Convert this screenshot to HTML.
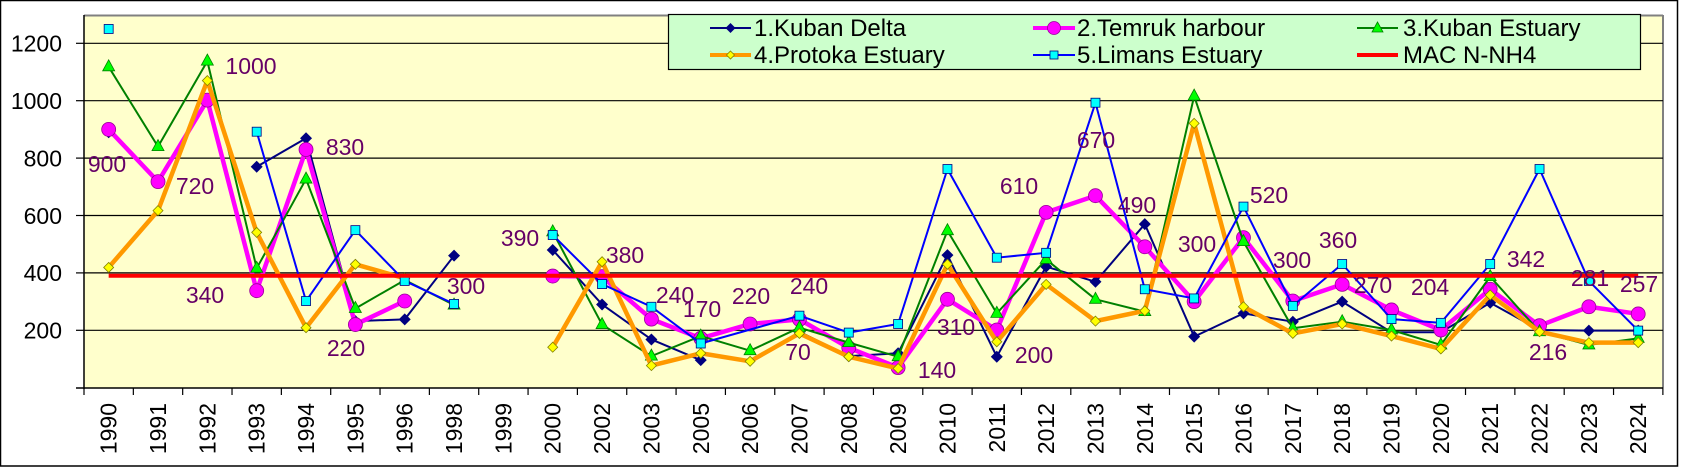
<!DOCTYPE html>
<html><head><meta charset="utf-8"><style>
html,body{margin:0;padding:0;background:#fff;}
svg{display:block;font-family:"Liberation Sans",Arial,sans-serif;}
</style></head><body>
<svg width="1684" height="467" viewBox="0 0 1684 467" xmlns="http://www.w3.org/2000/svg">
<rect x="0" y="0" width="1684" height="467" fill="#fff"/>
<rect x="0.5" y="0.5" width="1677" height="465.5" fill="none" stroke="#000" stroke-width="1.5"/>
<rect x="84" y="15" width="1579" height="373" fill="#FFFFCC"/>
<line x1="84" y1="15.5" x2="1663" y2="15.5" stroke="#808080" stroke-width="2"/>
<line x1="1663" y1="15" x2="1663" y2="388" stroke="#808080" stroke-width="2"/>
<g stroke="#000" stroke-width="1.2">
<line x1="84" y1="43.3" x2="1663" y2="43.3"/>
<line x1="84" y1="100.7" x2="1663" y2="100.7"/>
<line x1="84" y1="158.1" x2="1663" y2="158.1"/>
<line x1="84" y1="215.5" x2="1663" y2="215.5"/>
<line x1="84" y1="272.9" x2="1663" y2="272.9"/>
<line x1="84" y1="330.3" x2="1663" y2="330.3"/>
</g>
<line x1="84" y1="15" x2="84" y2="389" stroke="#000" stroke-width="1.5"/>
<line x1="76" y1="388" x2="1663" y2="388" stroke="#000" stroke-width="1.5"/>
<g stroke="#000" stroke-width="1.2">
<line x1="76" y1="43.3" x2="84" y2="43.3"/><line x1="76" y1="100.7" x2="84" y2="100.7"/><line x1="76" y1="158.1" x2="84" y2="158.1"/><line x1="76" y1="215.5" x2="84" y2="215.5"/><line x1="76" y1="272.9" x2="84" y2="272.9"/><line x1="76" y1="330.3" x2="84" y2="330.3"/>
</g>
<g font-size="23" text-anchor="end" fill="#000">
<text x="62" y="51.5">1200</text><text x="62" y="109">1000</text><text x="62" y="166.5">800</text><text x="62" y="224">600</text><text x="62" y="281">400</text><text x="62" y="338.5">200</text>
</g>
<g id="xaxis"></g>
<g id="series"></g>
<g font-size="23" fill="#660066" text-anchor="middle">
<text x="251" y="74">1000</text><text x="107" y="172">900</text><text x="195" y="194">720</text><text x="345" y="155">830</text><text x="205" y="303">340</text><text x="346" y="356">220</text><text x="520" y="246">390</text><text x="466" y="294">300</text>
<text x="625" y="263">380</text><text x="675" y="303">240</text><text x="702" y="317">170</text><text x="751" y="304">220</text><text x="809" y="294">240</text><text x="798" y="360">70</text><text x="956" y="335">310</text><text x="937" y="378">140</text><text x="1019" y="194">610</text><text x="1034" y="363">200</text><text x="1096" y="148">670</text>
<text x="1137" y="213">490</text><text x="1197" y="252">300</text><text x="1269" y="203">520</text><text x="1292" y="268">300</text><text x="1338" y="248">360</text><text x="1373" y="293">270</text><text x="1430" y="295">204</text><text x="1526" y="267">342</text><text x="1548" y="360">216</text><text x="1590" y="286">281</text><text x="1639" y="292">257</text>
</g>
<rect x="668.5" y="14.5" width="972" height="55" fill="#CCFFCC" stroke="#000" stroke-width="1.2"/>
<g font-size="24" fill="#000">
<line x1="710" y1="28" x2="751" y2="28" stroke="#000080" stroke-width="2"/><path d="M730.5 23 L735.5 28 L730.5 33 L725.5 28Z" fill="#000080"/>
<text x="754" y="36">1.Kuban Delta</text>
<line x1="710" y1="55" x2="751" y2="55" stroke="#FF9900" stroke-width="4"/><path d="M730.5 51 L734.5 55 L730.5 59 L726.5 55Z" fill="#FFFF00" stroke="#808000" stroke-width="0.8"/>
<text x="754" y="63">4.Protoka Estuary</text>
<line x1="1033" y1="28" x2="1075" y2="28" stroke="#FF00FF" stroke-width="4"/><circle cx="1054" cy="28" r="6.5" fill="#FF00FF" stroke="#990099" stroke-width="0.8"/>
<text x="1077" y="36">2.Temruk harbour</text>
<line x1="1033" y1="55" x2="1075" y2="55" stroke="#0000FF" stroke-width="2"/><rect x="1050" y="51" width="8" height="8" fill="#00FFFF" stroke="#000080" stroke-width="0.8"/>
<text x="1077" y="63">5.Limans Estuary</text>
<line x1="1357" y1="28" x2="1398" y2="28" stroke="#008000" stroke-width="2"/><path d="M1377.5 22 L1383 32 L1372 32Z" fill="#00FF00" stroke="#008000" stroke-width="0.8"/>
<text x="1403" y="36">3.Kuban Estuary</text>
<line x1="1357" y1="55" x2="1398" y2="55" stroke="#FF0000" stroke-width="4"/>
<text x="1403" y="63">MAC N-NH4</text>
</g>
<script>
(function(){
var NS="http://www.w3.org/2000/svg";
var years=["1990","1991","1992","1993","1994","1995","1996","1998","1999","2000","2002","2003","2005","2006","2007","2008","2009","2010","2011","2012","2013","2014","2015","2016","2017","2018","2019","2020","2021","2022","2023","2024"];
var L=84,W=49.34;
function cx(i){return L+W*(i+0.5);}
function cy(v){return 387.7-v*0.287;}
function el(n,a,p){var e=document.createElementNS(NS,n);for(var k in a)e.setAttribute(k,a[k]);p.appendChild(e);return e;}
var xa=document.getElementById("xaxis");
for(var i=0;i<=32;i++){el("line",{x1:L+W*i,y1:388,x2:L+W*i,y2:395,stroke:"#000","stroke-width":1.2},xa);}
years.forEach(function(y,i){var x=cx(i)+8;var t=el("text",{x:0,y:0,"font-size":23,"text-anchor":"end",transform:"translate("+x+",403) rotate(-90)"},xa);t.textContent=y;});
var N=null;
var navy=[890,N,N,770,869,232,238,460,N,480,290,168,96,N,195,110,120,462,108,422,369,570,178,259,230,300,193,193,296,201,199,199];
var pink=[900,718,1002,338,830,220,302,N,N,389,387,239,172,222,238,139,70,308,201,611,669,491,300,523,302,360,271,201,343,216,282,257];
var green=[1118,840,1138,416,727,276,375,288,N,543,220,110,180,129,209,157,108,547,259,447,308,265,1016,509,207,230,201,149,387,195,149,172];
var orange=[419,617,1070,541,209,430,381,N,N,141,439,77,120,92,189,108,67,430,160,360,232,268,921,282,189,222,180,135,323,195,157,157];
var blue=[1250,N,N,892,302,549,372,292,N,532,361,282,154,N,251,192,222,762,453,470,993,343,311,631,285,431,239,226,431,762,372,199];
var g=document.getElementById("series");
function line(data,color,w){
  var segs=[],cur=[];
  data.forEach(function(v,i){
    if(v===N){ if(cur.length)segs.push(cur); cur=[]; }
    else cur.push([cx(i),cy(v)]);
  });
  if(cur.length)segs.push(cur);
  segs.forEach(function(s){ if(s.length>1) el("polyline",{points:s.map(function(p){return p.join(",");}).join(" "),fill:"none",stroke:color,"stroke-width":w,"stroke-linejoin":"round"},g); });
}
function markers(data,fn){data.forEach(function(v,i){if(v!==N)fn(cx(i),cy(v));});}
line(navy,"#000080",2);
markers(navy,function(x,y){el("path",{d:"M"+x+" "+(y-6)+"L"+(x+6)+" "+y+"L"+x+" "+(y+6)+"L"+(x-6)+" "+y+"Z",fill:"#000080"},g);});
line(pink,"#FF00FF",4.5);
markers(pink,function(x,y){el("circle",{cx:x,cy:y,r:7,fill:"#FF00FF",stroke:"#990099","stroke-width":0.8},g);});
line(green,"#008000",2);
markers(green,function(x,y){el("path",{d:"M"+x+" "+(y-7)+"L"+(x+6)+" "+(y+4)+"L"+(x-6)+" "+(y+4)+"Z",fill:"#00FF00",stroke:"#008000","stroke-width":0.8},g);});
line(orange,"#FF9900",4.5);
markers(orange,function(x,y){el("path",{d:"M"+x+" "+(y-5)+"L"+(x+5)+" "+y+"L"+x+" "+(y+5)+"L"+(x-5)+" "+y+"Z",fill:"#FFFF00",stroke:"#808000","stroke-width":0.8},g);});
line(blue,"#0000FF",2);
el("polyline",{points:cx(12)+","+cy(154)+" "+cx(14)+","+cy(251),fill:"none",stroke:"#0000FF","stroke-width":2},g);
markers(blue,function(x,y){el("rect",{x:x-4.5,y:y-4.5,width:9,height:9,fill:"#00FFFF",stroke:"#000080","stroke-width":0.8},g);});
el("line",{x1:cx(0),y1:cy(390),x2:cx(31),y2:cy(390),stroke:"#FF0000","stroke-width":4},g);
})();
</script>
</svg>
</body></html>
